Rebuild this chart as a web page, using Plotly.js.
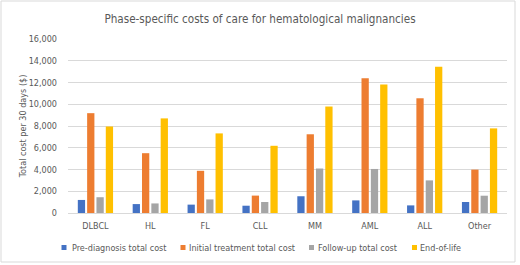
<!DOCTYPE html>
<html>
<head>
<meta charset="utf-8">
<script src="https://cdn.plot.ly/plotly-3.0.1.min.js"></script>
<style>html,body{margin:0;padding:0;background:#fff;}#chart{width:520px;height:265px;}</style>
</head>
<body>
<div id="chart"></div>
<script>
const categories = ["DLBCL", "HL", "FL", "CLL", "MM", "AML", "ALL", "Other"];
const seriesNames = ["Pre-diagnosis total cost", "Initial treatment total cost", "Follow-up total cost", "End-of-life"];
const preDiagnosis = [1200, 820, 770, 670, 1540, 1160, 700, 1010];
const initialTreatment = [9180, 5500, 3880, 1600, 7240, 12380, 10550, 3990];
const followUp = [1450, 880, 1250, 1010, 4090, 4050, 3000, 1590];
const endOfLife = [7950, 8700, 7320, 6180, 9790, 11820, 13450, 7780];
const yTicks = [0, 2000, 4000, 6000, 8000, 10000, 12000, 14000, 16000];
const colors = ["#4472C4", "#ED7D31", "#A5A5A5", "#FFC000"];

const seriesValues = [preDiagnosis, initialTreatment, followUp, endOfLife];
const traces = seriesValues.map((vals, i) => ({
  type: "bar",
  name: seriesNames[i],
  x: categories,
  y: vals,
  marker: {color: colors[i]},
  hoverinfo: "x+y+name",
  showlegend: false
}));

// plot area geometry (pixels) used to place the legend row below the axis
const W = 520, H = 265, mL = 68, mR = 13, mT = 39, mB = 52;
const pw = W - mL - mR, ph = H - mT - mB;
const px = x => (x - mL) / pw;
const py = y => (H - mB - y) / ph;
const legendSwatchX = [61.5, 180.5, 309, 412];
const legendTextX = [70, 187, 316, 418];
const legendY = 247.5;

const font = "DejaVu Sans Condensed, sans-serif";
const shapes = [{type: "rect", xref: "paper", yref: "paper", x0: px(1), x1: px(515), y0: py(262), y1: py(1),
                 line: {color: "#d9d9d9", width: 1}, fillcolor: "rgba(0,0,0,0)", layer: "below"}];
const annotations = [];
seriesNames.forEach((name, i) => {
  shapes.push({type: "rect", xref: "paper", yref: "paper",
               x0: px(legendSwatchX[i]), x1: px(legendSwatchX[i] + 5),
               y0: py(legendY + 2.5), y1: py(legendY - 2.5),
               line: {width: 0}, fillcolor: colors[i]});
  annotations.push({xref: "paper", yref: "paper", x: px(legendTextX[i]), y: py(legendY),
                    xanchor: "left", yanchor: "middle", showarrow: false, text: name,
                    font: {family: font, size: 9, color: "#595959"}});
});

const layout = {
  width: W, height: H,
  margin: {l: mL, r: mR, t: mT, b: mB, autoexpand: false},
  paper_bgcolor: "#fff", plot_bgcolor: "#fff",
  font: {family: font, size: 9, color: "#595959"},
  title: {text: "Phase-specific costs of care for hematological malignancies",
          font: {family: font, size: 11.6, color: "#595959"},
          x: 0.5, xanchor: "center", y: 0.93, yanchor: "middle", yref: "container"},
  barmode: "group", bargap: 0.32, bargroupgap: 0.22,
  xaxis: {type: "category", showgrid: false, showline: false, ticks: "", automargin: false,
          ticklabelstandoff: 6,
          tickfont: {family: font, size: 9, color: "#595959"}},
  yaxis: {range: [0, 16000], tickvals: yTicks, ticktext: yTicks.map(v => v.toLocaleString("en-US")),
          showgrid: true, gridcolor: "#d9d9d9", gridwidth: 1, zeroline: true, zerolinecolor: "#d9d9d9",
          showline: false, ticks: "", ticklabelstandoff: 10, automargin: true,
          tickfont: {family: font, size: 9, color: "#595959"},
          title: {text: "Total cost per 30 days ($)", font: {family: font, size: 9, color: "#595959"}, standoff: 0}},
  showlegend: false,
  shapes: shapes,
  annotations: annotations
};
Plotly.newPlot("chart", traces, layout, {displayModeBar: false, staticPlot: true});
</script>
</body>
</html>
